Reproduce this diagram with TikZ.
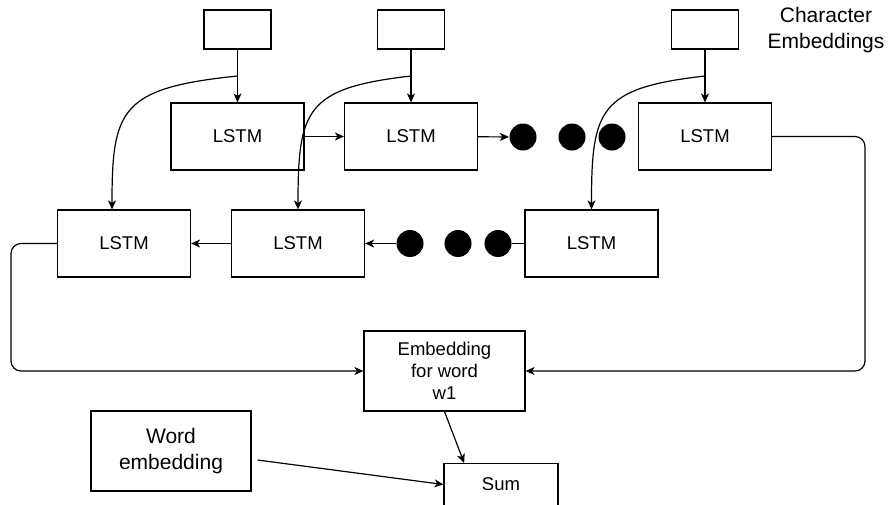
\documentclass[tikz,border=0pt]{standalone}
\usepackage{fontspec}
\setmainfont{Liberation Sans}
\usetikzlibrary{arrows.meta,calc}

\begin{document}
\begin{tikzpicture}[x=1pt,y=-1pt,line width=1.2pt,
  cell/.style={draw,minimum width=133pt,minimum height=67pt,inner sep=0pt,font=\fontsize{18.5}{22}\selectfont},
  charbox/.style={draw,minimum width=67pt,minimum height=39pt,inner sep=0pt},
  blob/.style={fill=black,circle,minimum size=27pt,inner sep=0pt},
  arr/.style={-{Stealth[length=9pt,width=8pt,inset=2.5pt]}}]
\useasboundingbox (0,0) rectangle (892,504);
\node[charbox] (c1) at (237.5,29.5) {};
\node[charbox] (c2) at (411,29.5) {};
\node[charbox] (c3) at (705,29.5) {};
\node[align=center,font=\fontsize{21}{26}\selectfont] (lbl) at (826,30) {Character\\Embeddings};
\node[cell] (f1) at (237.5,136.5) {LSTM};
\node[cell] (f2) at (411,136.5) {LSTM};
\node[cell] (f3) at (705,136.5) {LSTM};
\node[cell] (b1) at (124,243.5) {LSTM};
\node[cell] (b2) at (298,243.5) {LSTM};
\node[cell] (b3) at (591.5,243.5) {LSTM};
\foreach \x [count=\i] in {523,572,612} \node[blob] (t\i) at (\x,137) {};
\foreach \x [count=\i] in {410,458,498} \node[blob] (d\i) at (\x,243.5) {};
\node[draw,minimum width=161pt,minimum height=80pt,align=center,font=\fontsize{18.5}{22}\selectfont] (wemb) at (444.5,371) {Embedding\\for word\\w1};
\node[draw,minimum width=160pt,minimum height=80pt,align=center,font=\fontsize{21}{26}\selectfont] (word) at (171,451) {Word\\embedding};
\node[draw,minimum width=114pt,minimum height=42pt,font=\fontsize{18.5}{22}\selectfont] (sum) at (501,484.5) {Sum};
\foreach \i in {1,2,3} \draw[arr] (c\i) -- (f\i);
\coordinate (s1) at (237.5,76);
\coordinate (s2) at (411,76);
\coordinate (s3) at (705,76);
\draw[arr] (s1) .. controls +(-117,12) and +(0,-100) .. ($(b1.north)+(-12,0)$);
\draw[arr] (s2) .. controls +(-105,12) and +(0,-100) .. (b2.north);
\draw[arr] (s3) .. controls +(-106,12) and +(0,-100) .. (b3.north);
\draw[arr] (f1) -- (f2);
\draw[arr] (f2) -- (t1);
\draw (b3) -- (d3);
\draw[arr] (d1) -- (b2);
\draw[arr] (b2) -- (b1);
\coordinate (lturn) at (11,371);
\coordinate (rturn) at (865,371);
\draw[arr,rounded corners=10pt] (b1.west) -| (lturn) -- (wemb.west);
\draw[arr,rounded corners=10pt] (f3.east) -| (rturn) -- (wemb.east);
\draw[arr] (wemb.south) -- ($(sum.north west)!0.18!(sum.north east)$);
\draw[arr] ($(word.east)+(6,9)$) -- (sum.west);
\end{tikzpicture}
\end{document}
